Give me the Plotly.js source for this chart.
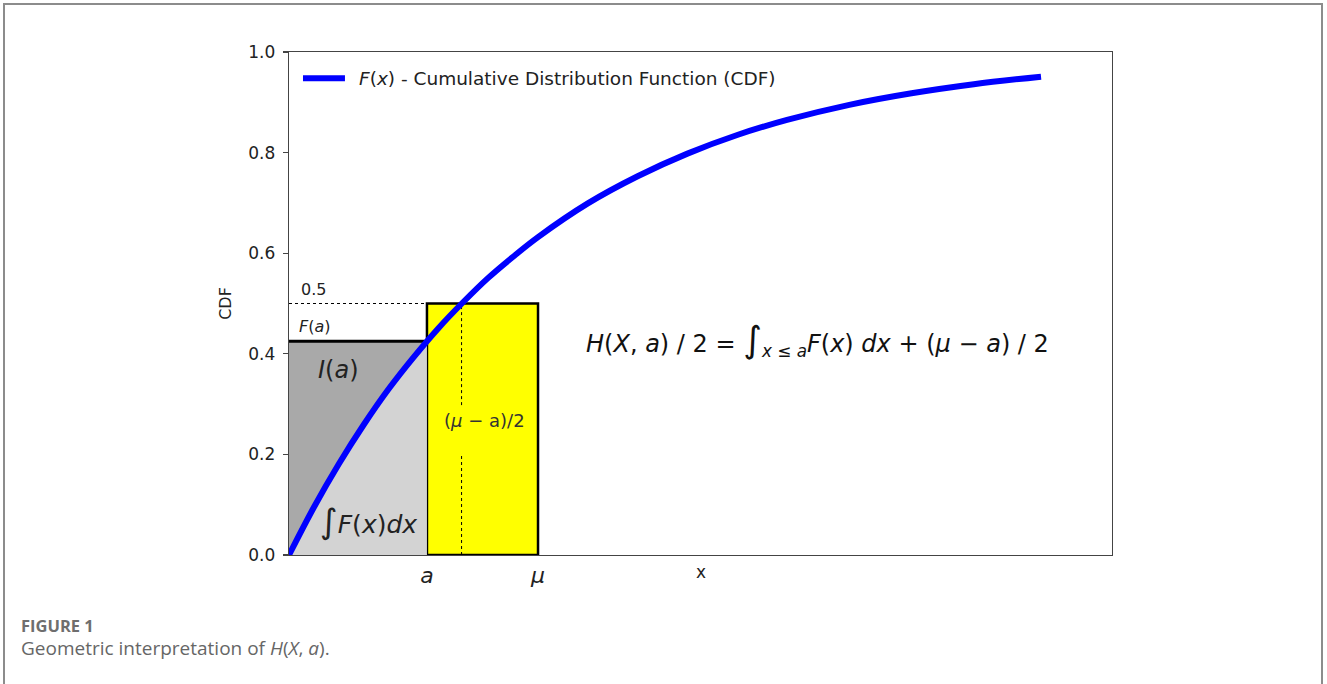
<!DOCTYPE html>
<html>
<head>
<meta charset="utf-8">
<script src="https://cdn.plot.ly/plotly-3.0.1.min.js"></script>
<style>
  html, body { margin: 0; padding: 0; background: #ffffff; }
  #frame {
    position: absolute; left: 3px; top: 3px; width: 1320px; height: 700px;
    border-left: 2px solid #8c8c8c; border-top: 2px solid #8c8c8c; border-right: 2px solid #8c8c8c;
    box-sizing: border-box; pointer-events: none; z-index: 5;
  }
  #chart { position: absolute; left: 0; top: 0; width: 1327px; height: 684px; }
</style>
</head>
<body>
<div id="chart"></div>
<div id="frame"></div>
<script>
// Exponential CDF sampled along x (mean mu = 1)
const xs  = [0, 0.1, 0.2, 0.3, 0.4, 0.5, 0.6, 0.7, 0.8, 0.9, 1.0, 1.2, 1.4, 1.6, 1.8, 2.0, 2.25, 2.5, 2.75, 3.02];
const cdf = [0, 0.095, 0.181, 0.259, 0.330, 0.393, 0.451, 0.503, 0.551, 0.593, 0.632, 0.699, 0.753, 0.798, 0.835, 0.865, 0.895, 0.918, 0.936, 0.951];

// Key points on the x axis
const a = 0.554;        // threshold a
const Fa = 0.425;       // F(a)
const mu = 1.0;         // mean
const median = 0.693;   // F(median) = 0.5
const half = 0.5;

const yTicks = [0, 0.2, 0.4, 0.6, 0.8, 1.0];
const xTickVals = [a, mu];
const xTickText = ['<i>a</i>', '<i>μ</i>'];
const seriesName = '<i>F</i>(<i>x</i>) - Cumulative Distribution Function (CDF)';

// Part of the curve up to a, for the area under F
const underX = [], underY = [];
xs.forEach((v, i) => { if (v < a) { underX.push(v); underY.push(cdf[i]); } });
underX.push(a); underY.push(Fa);

const MF = 'DejaVu Sans, Verdana, sans-serif';
const CF = 'Open Sans, Lato, sans-serif';

const traces = [
  {
    x: underX, y: underY, type: 'scatter', mode: 'lines',
    fill: 'tozeroy', fillcolor: '#d3d3d3',
    line: { width: 0, color: '#d3d3d3' },
    showlegend: false, hoverinfo: 'skip'
  },
  {
    x: xs, y: cdf, type: 'scatter', mode: 'lines',
    name: seriesName, showlegend: false,
    line: { color: '#0000ff', width: 6, shape: 'spline', smoothing: 1 }
  }
];

const shapes = [
  // I(a): rectangle under F(a), left of a
  { type: 'rect', layer: 'below', xref: 'x', yref: 'y', x0: 0, x1: a, y0: 0, y1: Fa,
    fillcolor: '#a9a9a9', line: { width: 0 } },
  // (mu - a)/2 rectangle
  { type: 'rect', layer: 'below', xref: 'x', yref: 'y', x0: a, x1: mu, y0: 0, y1: half,
    fillcolor: '#ffff00', line: { color: '#000000', width: 2.5 } },
  // F(a) level
  { type: 'line', layer: 'below', xref: 'x', yref: 'y', x0: 0, x1: a, y0: Fa, y1: Fa,
    line: { color: '#000000', width: 3 } },
  // 0.5 level
  { type: 'line', layer: 'below', xref: 'x', yref: 'y', x0: 0, x1: a, y0: half, y1: half,
    line: { color: '#000000', width: 1, dash: 'dot' } },
  // median, split around the label
  { type: 'line', layer: 'below', xref: 'x', yref: 'y', x0: median, x1: median, y0: 0.298, y1: half,
    line: { color: '#000000', width: 1, dash: 'dot' } },
  { type: 'line', layer: 'below', xref: 'x', yref: 'y', x0: median, x1: median, y0: 0, y1: 0.199,
    line: { color: '#000000', width: 1, dash: 'dot' } },
  // legend key
  { type: 'line', layer: 'above', xref: 'paper', yref: 'paper', x0: 0.017, x1: 0.068, y0: 0.948, y1: 0.948,
    line: { color: '#0000ff', width: 6 } }
];

const annotations = [
  // legend label
  { x: 0.083, y: 0.948, xref: 'paper', yref: 'paper', xanchor: 'left', yanchor: 'middle', showarrow: false,
    text: seriesName, font: { family: MF, size: 18.5, color: '#222' } },
  { x: 0.04, y: 0.527, xref: 'x', yref: 'y', xanchor: 'left', yanchor: 'middle', showarrow: false,
    text: '0.5', font: { family: MF, size: 16, color: '#222' } },
  { x: 0.032, y: 0.455, xref: 'x', yref: 'y', xanchor: 'left', yanchor: 'middle', showarrow: false,
    text: '<i>F</i>(<i>a</i>)', font: { family: MF, size: 16, color: '#222' } },
  { x: 0.2, y: 0.368, xref: 'x', yref: 'y', xanchor: 'center', yanchor: 'middle', showarrow: false,
    text: '<i>I</i>(<i>a</i>)', font: { family: MF, size: 24, color: '#222' } },
  { x: 0.318, y: 0.068, xref: 'x', yref: 'y', xanchor: 'center', yanchor: 'middle', showarrow: false,
    text: '<span style="font-size:34px">∫</span><i>F</i>(<i>x</i>)<i>dx</i>', font: { family: MF, size: 25, color: '#222' } },
  { x: 0.787, y: 0.268, xref: 'x', yref: 'y', xanchor: 'center', yanchor: 'middle', showarrow: false,
    text: '(<i>μ</i> − a)/2', font: { family: MF, size: 18, color: '#333' } },
  { x: 2.124, y: 0.427, xref: 'x', yref: 'y', xanchor: 'center', yanchor: 'middle', showarrow: false,
    text: '<i>H</i>(<i>X</i>, <i>a</i>) / 2 = <span style="font-size:36px">∫</span><sub><i>x</i> ≤ <i>a</i></sub><i>F</i>(<i>x</i>) <i>dx</i> + (<i>μ</i> − <i>a</i>) / 2',
    font: { family: MF, size: 24, color: '#111' } },
  // x axis title
  { x: 0.5, y: -0.034, xref: 'paper', yref: 'paper', xanchor: 'center', yanchor: 'middle', showarrow: false,
    text: 'x', font: { family: MF, size: 17, color: '#222' } },
  // caption
  { x: -0.328, y: -0.141, xref: 'paper', yref: 'paper', xanchor: 'left', yanchor: 'middle', showarrow: false,
    text: '<b>FIGURE 1</b>', font: { family: CF, size: 16.5, color: '#6e6e6e' } },
  { x: -0.328, y: -0.185, xref: 'paper', yref: 'paper', xanchor: 'left', yanchor: 'middle', showarrow: false,
    text: 'Geometric interpretation of <i>H</i>(<i>X</i>, <i>a</i>).', font: { family: CF, size: 19, color: '#666' } }
];

const layout = {
  width: 1327, height: 684,
  margin: { l: 289, r: 215, t: 52, b: 129, pad: 0 },
  paper_bgcolor: '#ffffff', plot_bgcolor: '#ffffff',
  font: { family: MF, color: '#222' },
  showlegend: false,
  xaxis: {
    range: [0, 3.305], showgrid: false, zeroline: false,
    showline: true, mirror: true, linecolor: '#444', linewidth: 1.3,
    tickmode: 'array', tickvals: xTickVals, ticktext: xTickText,
    ticks: '', tickfont: { family: MF, size: 22, color: '#222' }
  },
  yaxis: {
    range: [0, 1], showgrid: false, zeroline: false,
    showline: true, mirror: true, linecolor: '#444', linewidth: 1.3,
    tickmode: 'array', tickvals: yTicks, tickformat: '.1f',
    ticks: 'outside', ticklen: 5, tickcolor: '#444', tickwidth: 1.3,
    ticklabelstandoff: 4,
    tickfont: { family: MF, size: 17, color: '#222' },
    title: { text: 'CDF', font: { family: MF, size: 16, color: '#222' }, standoff: 12 }
  },
  shapes: shapes,
  annotations: annotations
};

Plotly.newPlot('chart', traces, layout, { displayModeBar: false, staticPlot: true });
</script>
</body>
</html>
